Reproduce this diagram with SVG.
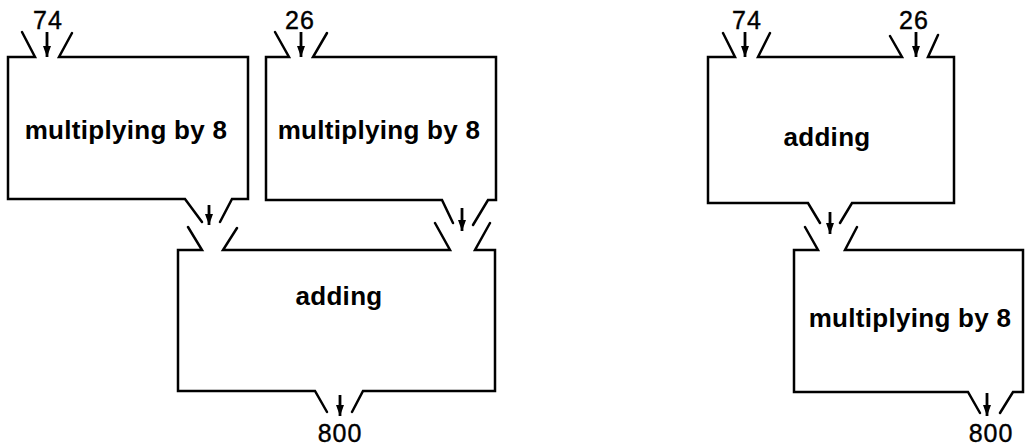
<svg xmlns="http://www.w3.org/2000/svg" width="1025" height="445" viewBox="0 0 1025 445">
<defs>
<marker id="ah" markerUnits="userSpaceOnUse" markerWidth="12" markerHeight="10" refX="11" refY="4.5" orient="auto">
<path d="M0,0.5 L11,4.5 L0,8.5 z" fill="#000"/>
</marker>
<style>
.box{fill:none;stroke:#000;stroke-width:2.5;stroke-linejoin:miter;stroke-linecap:round}
.arr{fill:none;stroke:#000;stroke-width:2.8;marker-end:url(#ah)}
.lbl{font-family:"Liberation Sans",Arial,sans-serif;font-size:26px;font-weight:bold;fill:#000;text-anchor:middle;letter-spacing:0.3px}
.num{font-family:"Liberation Sans",Arial,sans-serif;font-size:25px;fill:#000;text-anchor:middle;letter-spacing:1px;stroke:#000;stroke-width:0.4}
</style>
</defs>
<rect width="1025" height="445" fill="#fff"/>
<g id="mult1">
<path class="box" d="M22,32 L35,57 L8,57 L8,199 L185,199 L202,222 M220,222 L232,199 L248,199 L248,57 L59,57 L72,33"/>
<text class="lbl" x="126" y="139">multiplying by 8</text>
</g>
<g id="mult2">
<path class="box" d="M275,32 L289,57 L266,57 L266,200 L442,200 L453,223 M473,225 L488,200 L496,200 L496,57 L313,57 L327,33"/>
<text class="lbl" x="379" y="139">multiplying by 8</text>
</g>
<g id="add1">
<path class="box" d="M188,227 L202,250 L178,250 L178,391 L315,391 L327,412 M352,412 L363,391 L495,391 L495,250 L475,250 L490,223 M435,223 L450,250 L223,250 L237,228"/>
<text class="lbl" x="339" y="305">adding</text>
</g>
<g id="add2">
<path class="box" d="M723,33 L735,57 L708,57 L708,203 L808,203 L820,223 M840,223 L852,203 L954,203 L954,57 L928,57 L938,35 M890,36 L902,57 L758,57 L770,33"/>
<text class="lbl" x="827" y="146">adding</text>
</g>
<g id="mult3">
<path class="box" d="M805,227 L818,250 L794,250 L794,392 L968,392 L980,413 M1000,413 L1013,392 L1023,392 L1023,250 L845,250 L857,227"/>
<text class="lbl" x="910" y="327">multiplying by 8</text>
</g>
<g id="connectors">
<line class="arr" x1="47" y1="32" x2="47" y2="57"/>
<line class="arr" x1="301" y1="32" x2="301" y2="57"/>
<line class="arr" x1="209" y1="205" x2="209" y2="225"/>
<line class="arr" x1="462" y1="208" x2="462" y2="231"/>
<line class="arr" x1="340" y1="395" x2="340" y2="416"/>
<line class="arr" x1="745" y1="32" x2="745" y2="57"/>
<line class="arr" x1="916" y1="32" x2="916" y2="57"/>
<line class="arr" x1="830" y1="212" x2="830" y2="234"/>
<line class="arr" x1="987" y1="393" x2="987" y2="416"/>
<text class="num" x="48" y="29">74</text>
<text class="num" x="300" y="29">26</text>
<text class="num" x="340" y="442">800</text>
<text class="num" x="747" y="29">74</text>
<text class="num" x="914" y="29">26</text>
<text class="num" x="991" y="442">800</text>
</g>
</svg>
